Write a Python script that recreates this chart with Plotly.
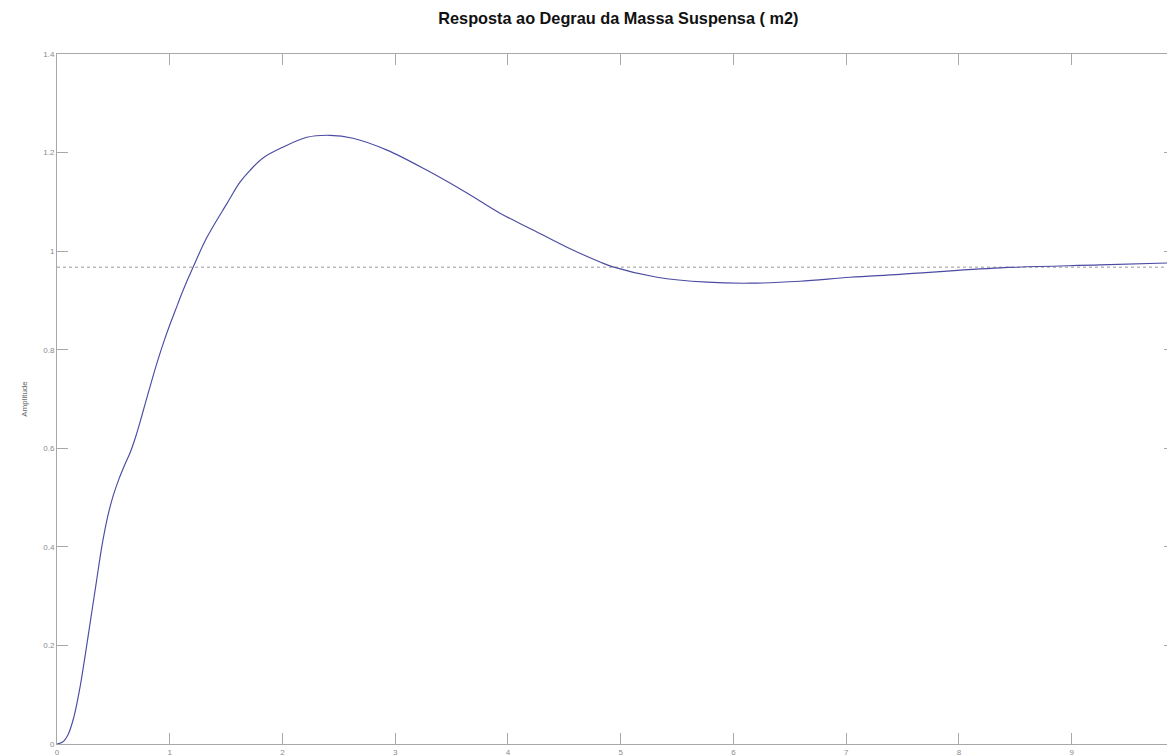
import plotly.graph_objects as go

# Step response data (time in s, amplitude)
t = [0.0, 0.05, 0.10, 0.15, 0.20, 0.25, 0.30, 0.35, 0.40, 0.45, 0.50, 0.55,
     0.60, 0.65, 0.70, 0.75, 0.80, 0.85, 0.90, 0.95, 1.00, 1.05, 1.10, 1.15,
     1.20, 1.33, 1.508, 1.623, 1.712, 1.827, 2.004, 2.217, 2.421, 2.625, 2.927,
     3.282, 3.636, 3.929, 4.222, 4.523, 4.816, 4.931, 5.322, 5.765, 6.146,
     6.590, 7.033, 7.477, 8.364, 9.250, 10.0]
amp = [0.0, 0.004, 0.02, 0.055, 0.11, 0.18, 0.255, 0.33, 0.404, 0.462, 0.505, 0.538,
       0.566, 0.592, 0.625, 0.664, 0.705, 0.745, 0.783, 0.818, 0.85, 0.88, 0.91, 0.938,
       0.964, 1.028, 1.097, 1.140, 1.164, 1.189, 1.211, 1.231, 1.235, 1.229, 1.205,
       1.164, 1.118, 1.077, 1.043, 1.008, 0.978, 0.968, 0.947, 0.937, 0.935,
       0.939, 0.947, 0.953, 0.966, 0.972, 0.977]
steady_state = 0.9675
x_ticks = [0, 1, 2, 3, 4, 5, 6, 7, 8, 9]
y_ticks = [0, 0.2, 0.4, 0.6, 0.8, 1, 1.2, 1.4]
y_tick_labels = ["0", "0.2", "0.4", "0.6", "0.8", "1", "1.2", "1.4"]

fig = go.Figure()
fig.add_trace(go.Scatter(
    x=[0, 10], y=[steady_state, steady_state], mode="lines",
    line=dict(color="#9a9a9a", width=1, dash="dot"), hoverinfo="skip",
    showlegend=False))
fig.add_trace(go.Scatter(
    x=t, y=amp, mode="lines", line=dict(color="#4b4ba3", width=1.15, shape="spline", smoothing=1.0),
    showlegend=False))

axis_common = dict(
    showgrid=False, zeroline=False, showline=True, linecolor="#a8a8a8", linewidth=1,
    ticks="inside", ticklen=11, tickcolor="#a8a8a8", tickwidth=1, mirror="ticks",
    tickfont=dict(family="Liberation Sans, Arial, sans-serif", size=8, color="#8a8a8a"),
)

fig.update_layout(
    width=1167, height=748,
    margin=dict(l=49, r=0, t=46, b=12),
    paper_bgcolor="white", plot_bgcolor="white",
    title=dict(text="<b>Resposta ao Degrau da Massa Suspensa ( m2)</b>",
               x=0.523, xanchor="center", y=0.9866, yanchor="middle",
               font=dict(family="Liberation Sans, Arial, sans-serif", size=16.3, color="#111111")),
    xaxis=dict(range=[0, 9.916], tickvals=x_ticks, ticklabelstandoff=0, **axis_common),
    yaxis=dict(range=[0, 1.4], tickvals=y_ticks, ticktext=y_tick_labels,
               title=dict(text="Amplitude", standoff=14,
                          font=dict(family="Liberation Sans, Arial, sans-serif", size=8, color="#666666")),
               **axis_common),
)

fig.write_html("out.html")
